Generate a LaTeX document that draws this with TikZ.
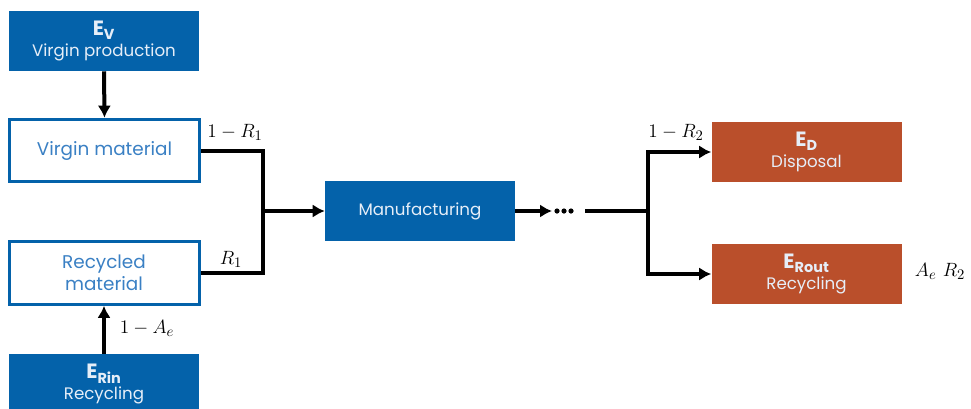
\documentclass[tikz,border=0pt]{standalone}
\usepackage{fontspec}
\setsansfont{Poppins}
\usetikzlibrary{arrows.meta}
\definecolor{bfill}{HTML}{0462AA}
\definecolor{btext}{HTML}{3A80C4}
\definecolor{ofill}{HTML}{BA4F2B}
\definecolor{ltext}{HTML}{E6EEF8}
\newcommand{\Elbl}[1]{{\fontsize{15.5}{15.5}\selectfont\bfseries E\textsubscript{#1}}}
\begin{document}
\begin{tikzpicture}[x=0.75pt,y=-0.75pt,
  fbox/.style={rectangle,fill=bfill,inner sep=0pt,minimum width=142.5pt,minimum height=45pt,
    text=ltext,align=center,font=\sffamily\fontsize{12.5}{14.5}\selectfont},
  obox/.style={fbox,fill=ofill},
  wbox/.style={rectangle,draw=bfill,line width=2.25pt,fill=white,inner sep=0pt,minimum width=142.5pt,
    minimum height=47pt,text=btext,align=center,font=\sffamily\fontsize{13.8}{16.5}\selectfont},
  conn/.style={line width=3pt,black},
  arr/.style={conn,-{Latex[length=9pt,width=10pt]}},
  lbl/.style={inner sep=0pt,font=\fontsize{15.5}{18}\selectfont}]
\useasboundingbox (0,0) rectangle (971,408);
\node[fbox] (ev) at (104,41) {\Elbl{V}\\[1pt]Virgin production};
\node[wbox] (vm) at (104.5,150.5) {Virgin material};
\node[wbox] (rm) at (104,273) {Recycled\\material};
\node[fbox] (erin) at (104,384) {\Elbl{Rin}\\[1pt]Recycling};
\node[fbox] (mf) at (420,211) {Manufacturing};
\node[obox] (ed) at (806.5,152) {\Elbl{D}\\[1pt]Disposal};
\node[obox] (ero) at (806.5,274) {\Elbl{Rout}\\[1pt]Recycling};
\coordinate (j1) at (263,211);
\coordinate (dl) at (552,211);
\coordinate (dr) at (585,211);
\coordinate (j2) at (648,211);
\fill (557,211) circle (2.6) (564,211) circle (2.6) (571,211) circle (2.6);
\draw[arr] (ev.south) -- (vm.north);
\draw[arr] (erin.north) -- (rm.south);
\draw[conn] (vm.east) -| (j1) |- (rm.east);
\draw[arr] (j1) -- (mf.west);
\draw[arr] (mf.east) -- (dl);
\draw[conn] (dr) -- (j2);
\draw[conn,{Latex[length=9pt,width=10pt]}-{Latex[length=9pt,width=10pt]}] (ed.west) -| (j2) |- (ero.west);
\node[lbl] (l1) at (235,132) {$1-R_1$};
\node[lbl] (l2) at (231,259) {$R_1$};
\node[lbl] (l3) at (147,328) {$1-A_e$};
\node[lbl] (l4) at (676,132) {$1-R_2$};
\node[lbl] (l5) at (940,271) {$A_e\ R_2$};
\end{tikzpicture}
\end{document}
